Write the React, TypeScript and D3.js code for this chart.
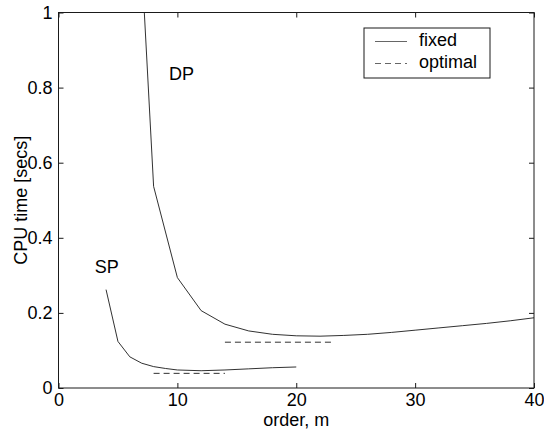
import React, { useRef, useEffect } from 'react'
import * as d3 from 'd3'

// DP: fixed order curve (m, secs)
const DP_M = [7, 8, 10, 12, 14, 16, 18, 20, 22, 24, 26, 28, 30, 32, 34, 36, 38, 40]
const DP_FIXED = [1.13, 0.537, 0.294, 0.206, 0.17, 0.152, 0.143, 0.139, 0.138, 0.14, 0.143, 0.148, 0.154, 0.16, 0.166, 0.172, 0.179, 0.187]
const DP_OPT_M = [14, 23]
const DP_OPT = [0.122, 0.122]

// SP
const SP_M = [4, 5, 6, 7, 8, 9, 10, 12, 14, 16, 18, 20]
const SP_FIXED = [0.262, 0.124, 0.083, 0.066, 0.057, 0.052, 0.048, 0.046, 0.048, 0.051, 0.054, 0.056]
const SP_OPT_M = [8, 14]
const SP_OPT = [0.039, 0.039]

const X_TICKS = [0, 10, 20, 30, 40]
const Y_TICKS = [0, 0.2, 0.4, 0.6, 0.8, 1]
const LEGEND = ['fixed', 'optimal']

const W = 544
const H = 430
const margin = { top: 12.5, right: 10, bottom: 42, left: 58.5 }
const FONT = '"Liberation Sans", Arial, sans-serif'
const FS = '18px'
const INK = '#1a1a1a'

export default function App() {
  const svgRef = useRef<SVGSVGElement>(null)

  useEffect(() => {
    if (!svgRef.current) return
    const svg = d3.select(svgRef.current)
    svg.selectAll('*').remove()

    const x = d3.scaleLinear().domain([0, 40]).range([margin.left, W - margin.right])
    const y = d3.scaleLinear().domain([0, 1]).range([H - margin.bottom, margin.top])
    const [x0, x1] = x.range()
    const [y0, y1] = y.range()

    svg.append('rect').attr('width', W).attr('height', H).attr('fill', '#fff')

    // clip for the data lines
    svg.append('defs').append('clipPath').attr('id', 'plot')
      .append('rect').attr('x', x0).attr('y', y1).attr('width', x1 - x0).attr('height', y0 - y1)

    const fmt = d3.format('~g')
    const styleAxis = (g: any) => {
      g.select('.domain').remove()
      g.selectAll('line').attr('stroke', INK).attr('stroke-width', 1)
      g.selectAll('text').style('font-size', FS).style('font-family', FONT).attr('fill', '#000')
    }

    // axes (ticks point inward, on all four sides)
    svg.append('g').attr('transform', `translate(0,${y0})`)
      .call(d3.axisBottom(x).tickValues(X_TICKS).tickFormat(fmt as any).tickSizeInner(-5).tickSizeOuter(0).tickPadding(5))
      .call(styleAxis)
    svg.append('g').attr('transform', `translate(0,${y1})`)
      .call(d3.axisTop(x).tickValues(X_TICKS).tickFormat(() => '').tickSizeInner(-5).tickSizeOuter(0))
      .call(styleAxis)
    svg.append('g').attr('transform', `translate(${x0},0)`)
      .call(d3.axisLeft(y).tickValues(Y_TICKS).tickFormat(fmt as any).tickSizeInner(-5).tickSizeOuter(0).tickPadding(6))
      .call(styleAxis)
    svg.append('g').attr('transform', `translate(${x1},0)`)
      .call(d3.axisRight(y).tickValues(Y_TICKS).tickFormat(() => '').tickSizeInner(-5).tickSizeOuter(0))
      .call(styleAxis)

    svg.append('rect')
      .attr('x', x0).attr('y', y1).attr('width', x1 - x0).attr('height', y0 - y1)
      .attr('fill', 'none').attr('stroke', INK).attr('stroke-width', 1)

    const line = d3.line<[number, number]>().x(d => x(d[0])).y(d => y(d[1]))
    const series = [
      { m: DP_M, v: DP_FIXED, dash: null },
      { m: SP_M, v: SP_FIXED, dash: null },
      { m: DP_OPT_M, v: DP_OPT, dash: '6,4' },
      { m: SP_OPT_M, v: SP_OPT, dash: '6,4' },
    ]
    const plot = svg.append('g').attr('clip-path', 'url(#plot)')
    series.forEach(s => {
      plot.append('path')
        .datum(s.m.map((m, i) => [m, s.v[i]] as [number, number]))
        .attr('d', line)
        .attr('fill', 'none')
        .attr('stroke', INK)
        .attr('stroke-width', 0.9)
        .attr('stroke-dasharray', s.dash)
    })

    // curve labels
    svg.append('text').attr('x', x(9.3)).attr('y', y(0.82)).text('DP')
      .style('font-size', FS).style('font-family', FONT)
    svg.append('text').attr('x', x(3.05)).attr('y', y(0.305)).text('SP')
      .style('font-size', FS).style('font-family', FONT)

    // axis titles
    svg.append('text').attr('x', (x0 + x1) / 2).attr('y', 426).attr('text-anchor', 'middle')
      .text('order, m').style('font-size', FS).style('font-family', FONT)
    svg.append('text')
      .attr('transform', `translate(27,${(y0 + y1) / 2}) rotate(-90)`)
      .attr('text-anchor', 'middle')
      .text('CPU time [secs]').style('font-size', FS).style('font-family', FONT)

    // legend
    const lg = svg.append('g').attr('transform', 'translate(364,28)')
    lg.append('rect').attr('width', 126).attr('height', 50)
      .attr('fill', '#fff').attr('stroke', INK).attr('stroke-width', 1)
    LEGEND.forEach((name, i) => {
      const ly = 13.5 + i * 22
      lg.append('line').attr('x1', 11).attr('x2', 43).attr('y1', ly).attr('y2', ly)
        .attr('stroke', '#555').attr('stroke-width', 0.9)
        .attr('stroke-dasharray', i === 1 ? '6,4' : null)
      lg.append('text').attr('x', 55).attr('y', ly + 4).text(name)
        .style('font-size', FS).style('font-family', FONT)
    })
  }, [])

  return (
    <svg ref={svgRef} width={W} height={H} style={{ position: 'absolute', left: 0, top: 0 }} />
  )
}
